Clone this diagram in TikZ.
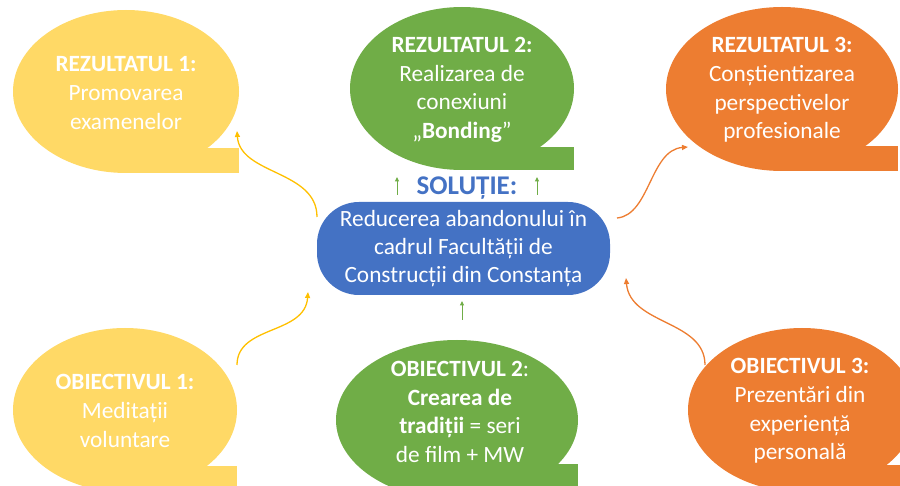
\documentclass[tikz,border=0pt]{standalone}
\usepackage{fontspec}
\setmainfont{Carlito}
\usetikzlibrary{shapes.geometric,arrows.meta}
\definecolor{cyel}{HTML}{FFD966}
\definecolor{cgrn}{HTML}{70AD47}
\definecolor{corg}{HTML}{ED7D31}
\definecolor{cblu}{HTML}{4472C4}
\definecolor{cgold}{HTML}{FFC000}
\begin{document}
\begin{tikzpicture}[x=1pt,y=-1pt,
 bubble/.style={ellipse, inner sep=0pt, outer sep=0pt, draw=none},
 btxt/.style={text=white, align=center, inner sep=0pt, font=\fontsize{23.3}{28.6}\selectfont},
 conn/.style={line width=1.3pt, -{Triangle[length=6pt,width=5pt]}},
 small/.style={line width=1pt, draw=cgrn, -{Triangle[length=4.5pt,width=4pt]}},
]
\useasboundingbox (0,0) rectangle (900,486);
\clip (0,0) rectangle (900,486);
% ---- REZULTATUL 1
\node[bubble, fill=cyel, minimum width=226pt, minimum height=163pt] (r1) at (126,91.5) {};
\fill[cyel] (126,148) rectangle (239,173);
\node[btxt] (r1t) at (126,93) {\textbf{REZULTATUL 1:}\\Promovarea\\examenelor};
% ---- REZULTATUL 2
\node[bubble, fill=cgrn, minimum width=224pt, minimum height=163pt] (r2) at (462,88.5) {};
\fill[cgrn] (462,147) rectangle (574,170);
\node[btxt] (r2t) at (462,90) {\textbf{REZULTATUL 2:}\\Realizarea de\\conexiuni\\„\textbf{Bonding}”};
% ---- REZULTATUL 3
\node[bubble, fill=corg, minimum width=232pt, minimum height=164pt] (r3) at (782,89) {};
\fill[corg] (782,146) rectangle (898,171);
\node[btxt] (r3t) at (782,90) {\textbf{REZULTATUL 3:}\\Conștientizarea\\perspectivelor\\profesionale};
% ---- OBIECTIVUL 1
\node[bubble, fill=cyel, minimum width=224pt, minimum height=164pt] (o1) at (125,410) {};
\fill[cyel] (125,466) rectangle (237,492);
\node[btxt] (o1t) at (125,411) {\textbf{OBIECTIVUL 1:}\\Meditații\\voluntare};
% ---- OBIECTIVUL 2
\node[bubble, fill=cgrn, minimum width=242pt, minimum height=160pt] (o2) at (457,420) {};
\fill[cgrn] (457,464) rectangle (578,500);
\node[btxt] (o2t) at (460,412) {\textbf{OBIECTIVUL 2}:\\\textbf{Crearea de}\\\textbf{tradiții} = seri\\de film + MW};
% ---- OBIECTIVUL 3
\node[bubble, fill=corg, minimum width=228pt, minimum height=164pt] (o3) at (802,410) {};
\fill[corg] (802,465) rectangle (920,500);
\node[btxt] (o3t) at (800,411) {\textbf{OBIECTIVUL 3:}\\Prezentări din\\experiență\\personală};
% ---- SOLUTIE
\node[fill=cblu, rounded corners=42pt, minimum width=293pt, minimum height=93pt, inner sep=0pt,
      text=white, align=center, font=\fontsize{23.3}{28}\selectfont] (sol) at (463.5,248.5)
      {Reducerea abandonului în\\cadrul Facultății de\\Construcții din Constanța};
\node[text=cblu, inner sep=0pt, font=\bfseries\fontsize{27}{32}\selectfont] (solt) at (467,188) {SOLUȚIE:};
% ---- connectors
\coordinate (a1) at (317,217); \coordinate (b1) at (237,131);
\coordinate (a2) at (237,365); \coordinate (b2) at (308,292);
\coordinate (a3) at (617,218); \coordinate (b3) at (688,147);
\coordinate (a4) at (705,365); \coordinate (b4) at (626,278);
\draw[conn, cgold] (a1) .. controls (317,170) and (240,175) .. (b1);
\draw[conn, cgold] (a2) .. controls (237,325) and (305,335) .. (b2);
\draw[conn, corg] (a3) .. controls (650,215) and (650,150) .. (b3);
\draw[conn, corg] (a4) .. controls (705,320) and (630,325) .. (b4);
\coordinate (g1s) at (397,195); \coordinate (g1e) at (397,177);
\coordinate (g2s) at (537,195); \coordinate (g2e) at (537,177);
\coordinate (g3s) at (462,320); \coordinate (g3e) at (462,301);
\draw[small] (g1s) -- (g1e);
\draw[small] (g2s) -- (g2e);
\draw[small] (g3s) -- (g3e);
\end{tikzpicture}
\end{document}
